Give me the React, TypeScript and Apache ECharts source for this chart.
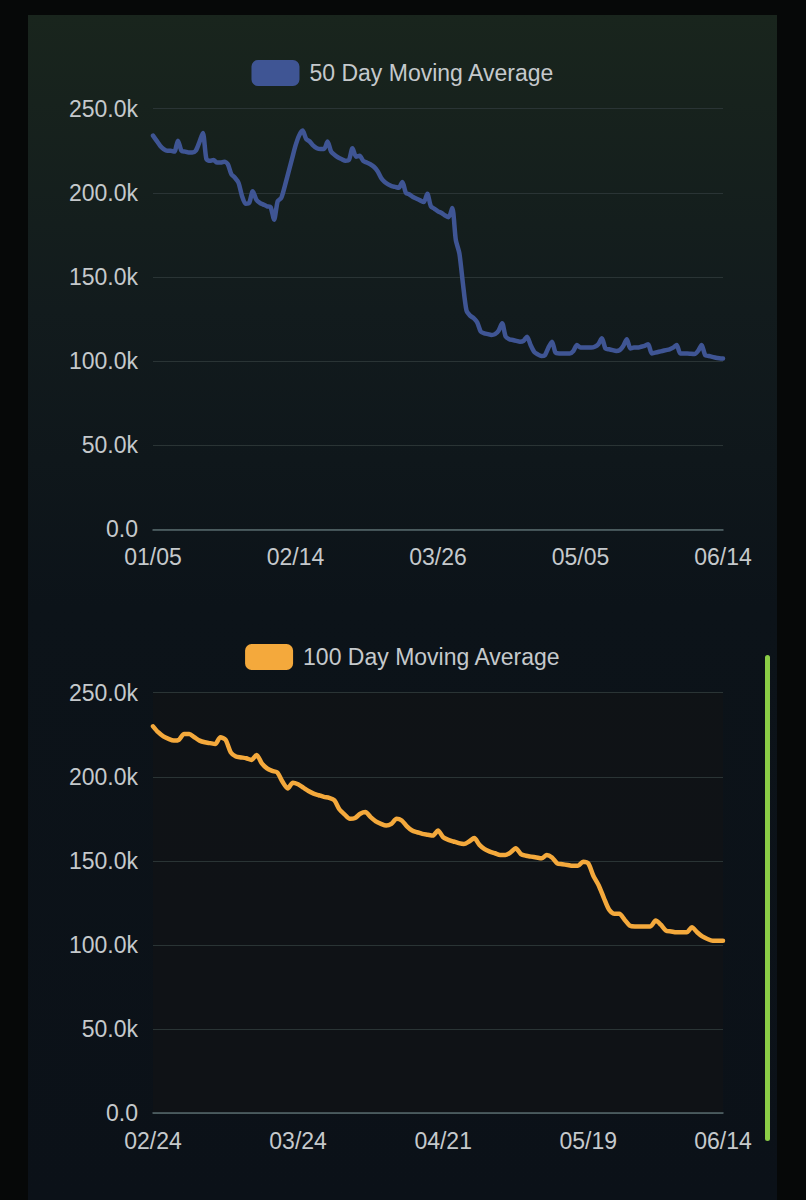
import React, { useEffect, useRef } from "react";
import * as echarts from "echarts";

// ---- categories ----
function makeDates(y: number, m: number, d: number, n: number): string[] {
  const out: string[] = [];
  for (let k = 0; k < n; k++) {
    const dt = new Date(Date.UTC(y, m, d + k));
    out.push(
      String(dt.getUTCMonth() + 1).padStart(2, "0") + "/" + String(dt.getUTCDate()).padStart(2, "0")
    );
  }
  return out;
}
const dates50 = makeDates(2023, 0, 5, 161); // 01/05 .. 06/14
const dates100 = makeDates(2023, 1, 24, 111); // 02/24 .. 06/14

// ---- series values (thousands) ----
const ma50: number[] = [
  234, 231, 228, 226, 225, 225, 224.5, 231, 225, 224.5,
  224, 224, 225, 230, 235.5, 220, 219, 219.5, 218, 218,
  218.5, 217, 211, 209, 206, 198, 193.5, 194, 201, 196,
  194, 193, 192, 191.5, 184, 195, 197, 204, 212, 220,
  228, 234, 237, 232, 230.5, 228, 226.5, 226, 226, 230.5,
  224.5, 222.5, 221, 220, 219, 219.5, 226.5, 221.5, 222, 219,
  218, 217, 215.5, 213, 209, 206.5, 205, 204, 203.5, 203,
  206.5, 200, 199, 197.5, 196.5, 195.5, 194.5, 199.5, 192, 190.5,
  189, 188, 186.5, 185.5, 191, 172, 164, 146, 130, 127,
  125.5, 123, 117.5, 116.5, 116, 115.5, 116, 118, 122.5, 114.5,
  113, 112.5, 112, 111.5, 112, 114.5, 109.5, 105.5, 104, 103,
  103.5, 108, 111.5, 105, 104.5, 104.5, 104.5, 104.5, 106, 109.5,
  108, 108, 108, 108, 108.5, 110, 113.5, 107.5, 107, 106.5,
  106, 106.5, 109, 113, 107.5, 108, 108, 108.5, 109, 110,
  104.5, 105, 105.5, 106, 106.5, 107, 108, 109.5, 104.5, 104.5,
  104.5, 104.3, 104.2, 106, 109.5, 103.5, 103, 102.5, 102, 101.7,
  101.5,
];

const ma100: number[] = [
  230, 226.5, 224, 222.5, 221.5, 222, 225.5, 225.5, 223.5, 221.5,
  220.5, 220, 219.5, 223.5, 222, 214.5, 212, 211.5, 211, 210,
  213, 208, 205, 203.5, 202.5, 197, 193, 196.5, 195.5, 193.5,
  191.5, 190, 189, 188, 187.5, 186, 180.5, 177.5, 175, 175.5,
  178, 179, 176, 173.5, 172, 171, 172, 175, 174, 170.5,
  168, 167, 166, 165.5, 165, 168, 164, 162.5, 161.5, 160.5,
  160, 161.5, 163.5, 159.5, 157, 155.5, 154.5, 153.5, 153.5, 155,
  157.5, 154, 153, 152.5, 152, 151.5, 153.5, 152, 148.5, 148,
  147.5, 147, 147, 149.5, 148.5, 141, 135.5, 128, 121, 118.5,
  118.5, 115, 111.5, 111, 111, 111, 111, 114.5, 112, 108.5,
  108, 107.5, 107.5, 107.5, 110.5, 107.5, 105, 103.5, 102.5, 102.5,
  102.5,
];

const seriesNames = ["50 Day Moving Average", "100 Day Moving Average"];
const seriesColors = ["#3f5594", "#f4a93c"];

// ---- tick labels ----
const yMax = 250;
const yStep = 50;
const fmtY = (v: number) => (v === 0 ? "0.0" : v.toFixed(1) + "k");

const FONT = "'Liberation Sans', Arial, Helvetica, sans-serif";
const LABEL = "#c5c9cc";

export default function App() {
  const ref = useRef<HTMLDivElement>(null);

  useEffect(() => {
    if (!ref.current) return;
    const chart = echarts.init(ref.current, undefined, { renderer: "svg" });

    const mkX = (gridIndex: number, data: string[], interval: (i: number) => boolean) => ({
      type: "category",
      gridIndex,
      data,
      boundaryGap: false,
      axisLine: { show: true, lineStyle: { color: "#56686c", width: 1.5 } },
      axisTick: { show: false },
      splitLine: { show: false },
      axisLabel: {
        interval: (idx: number) => interval(idx),
        color: LABEL,
        fontSize: 23,
        fontFamily: FONT,
        margin: 16,
      },
    });
    const mkY = (gridIndex: number) => ({
      type: "value",
      gridIndex,
      min: 0,
      max: yMax,
      interval: yStep,
      axisLine: { show: false },
      axisTick: { show: false },
      splitLine: { lineStyle: { color: "#2a3435", width: 1 } },
      axisLabel: { formatter: fmtY, color: LABEL, fontSize: 23, fontFamily: FONT, margin: 15 },
    });
    const mkLegend = (name: string, top: number) => ({
      data: [name],
      top,
      left: "center",
      padding: 0,
      icon: "roundRect",
      itemWidth: 48,
      itemHeight: 26,
      textStyle: { color: LABEL, fontSize: 23, fontFamily: FONT, padding: [0, 0, 0, 5] },
      selectedMode: false,
    });

    chart.setOption({
      animation: false,
      backgroundColor: "transparent",
      graphic: [
        {
          type: "rect",
          z: -10,
          silent: true,
          shape: { x: 0, y: 0, width: 806, height: 1200 },
          style: { fill: "#060808" },
        },
        {
          type: "rect",
          z: -9,
          silent: true,
          shape: { x: 28, y: 15, width: 749, height: 1185 },
          style: {
            fill: new echarts.graphic.LinearGradient(0, 0, 0, 1, [
              { offset: 0, color: "#19251d" },
              { offset: 0.25, color: "#121b1d" },
              { offset: 0.5, color: "#0c1319" },
              { offset: 1, color: "#0b1118" },
            ]),
          },
        },
        {
          type: "rect",
          z: 10,
          silent: true,
          shape: { x: 765, y: 655, width: 5, height: 486, r: 2.5 },
          style: { fill: "#8bcd46" },
        },
      ],
      legend: [mkLegend(seriesNames[0], 60), mkLegend(seriesNames[1], 644)],
      grid: [
        { left: 153, right: 83, top: 108.7, height: 420.6 },
        {
          left: 153,
          right: 83,
          top: 692.7,
          height: 420.3,
          show: true,
          backgroundColor: "rgba(20,19,19,0.45)",
          borderWidth: 0,
        },
      ],
      xAxis: [
        mkX(0, dates50, (i) => i % 40 === 0),
        mkX(1, dates100, (i) => i % 28 === 0 || i === dates100.length - 1),
      ],
      yAxis: [mkY(0), mkY(1)],
      series: [
        {
          type: "line",
          name: seriesNames[0],
          xAxisIndex: 0,
          yAxisIndex: 0,
          data: ma50,
          symbol: "none",
          smooth: 0.25,
          itemStyle: { color: seriesColors[0] },
          lineStyle: { color: seriesColors[0], width: 4.5, cap: "round", join: "round" },
        },
        {
          type: "line",
          name: seriesNames[1],
          xAxisIndex: 1,
          yAxisIndex: 1,
          data: ma100,
          symbol: "none",
          smooth: 0.25,
          itemStyle: { color: seriesColors[1] },
          lineStyle: { color: seriesColors[1], width: 4.5, cap: "round", join: "round" },
        },
      ],
    });

    return () => chart.dispose();
  }, []);

  return (
    <div style={{ position: "absolute", left: 0, top: 0, width: 806, height: 1200, background: "#060808" }}>
      <div ref={ref} style={{ width: 806, height: 1200 }} />
    </div>
  );
}
